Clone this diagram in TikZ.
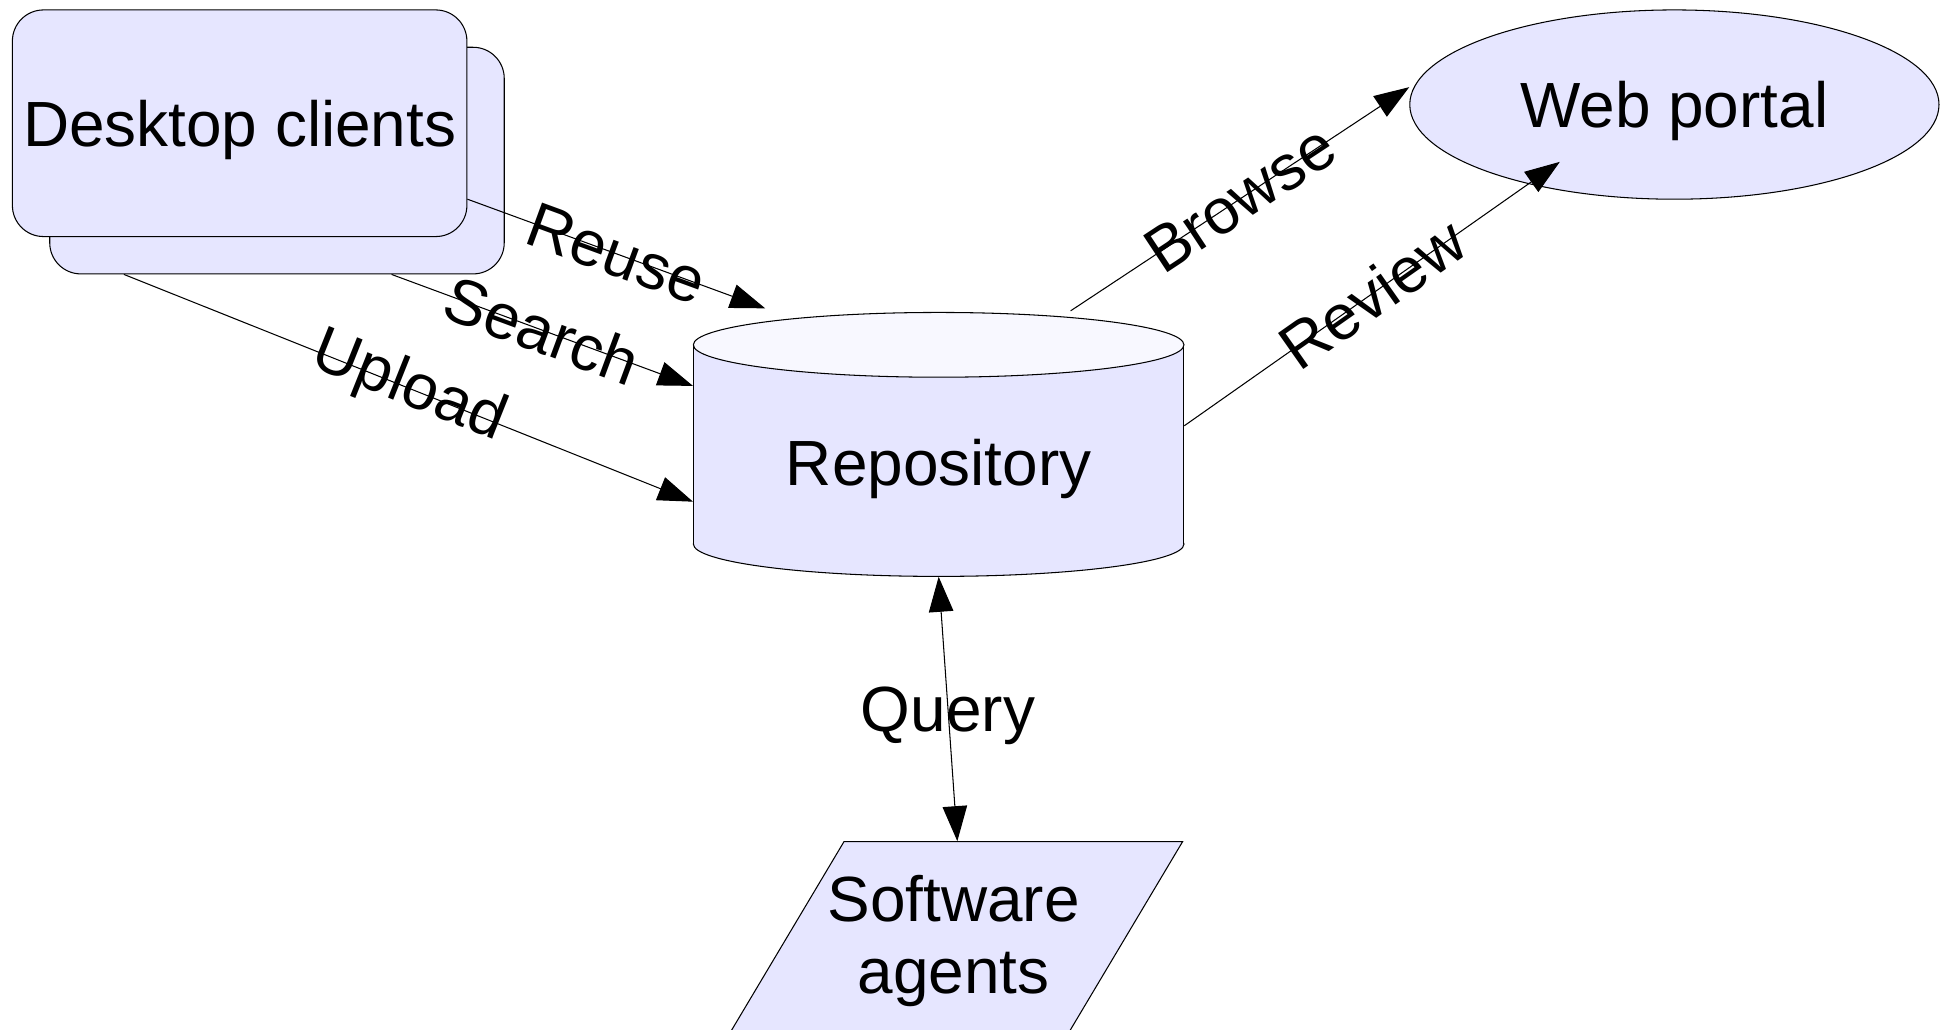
\documentclass[tikz,border=0pt]{standalone}
\usepackage{fontspec}
\setmainfont{Liberation Sans}
\usetikzlibrary{shapes.geometric,arrows.meta,calc}
\definecolor{boxfill}{HTML}{E6E6FF}
\definecolor{topfill}{HTML}{F8F8FF}
\begin{document}
\begin{tikzpicture}[x=0.025cm,y=-0.025cm,
  every node/.style={font=\fontsize{36.5}{41.5}\selectfont},
  shapebox/.style={draw=black,line width=0.6pt,fill=boxfill},
  lowtext/.style={text height=34pt,text depth=8pt},
  clientbox/.style={shapebox,rounded corners=0.625cm,minimum width=9.125cm,minimum height=4.55cm,inner sep=0pt},
  conn/.style={draw=black,line width=0.6pt,-{Triangle[length=20pt,width=14pt]}},
  biconn/.style={draw=black,line width=0.6pt,{Triangle[length=20pt,width=14pt]}-{Triangle[length=20pt,width=14pt]}},
  lbl/.style={sloped,midway,inner sep=0pt}]
\useasboundingbox (0,0) rectangle (1568,827);
\clip (0,0) rectangle (1568,827);
% desktop clients (stack)
\node[clientbox] (back) at (222.5,129) {};
\node[clientbox,lowtext] (front) at (192.5,99) {Desktop clients};
% web portal
\node[shapebox,lowtext,ellipse,minimum width=10.625cm,minimum height=3.8cm,inner sep=0pt] (web) at (1345,84) {Web portal};
% repository cylinder
\draw[shapebox] (754,437) ellipse [x radius=4.925cm, y radius=0.65cm];
\fill[boxfill] (557,277) rectangle (951,437);
\draw[line width=0.6pt] (557,277) -- (557,437) (951,277) -- (951,437);
\draw[shapebox,fill=topfill] (754,277) ellipse [x radius=4.925cm, y radius=0.65cm];
\node[minimum width=9.85cm,minimum height=5.3cm,inner sep=0pt] (repo) at (754,357) {};
\node (repotext) at (754,377) {Repository};
% software agents parallelogram
\draw[shapebox] (678,676) -- (950,676) -- (857,832) -- (585,832) -- cycle;
\node[minimum width=6.8cm,minimum height=3.775cm,inner sep=0pt] (soft) at (769,751.5) {};
\node[align=center,inner sep=0pt] (softtext) at (766,756) {Software\\agents};
% connectors
\draw[conn] ($(front.east)+(0,61)$) -- node[lbl]{Reuse} ($(repo.north west)+(58,-3)$);
\draw[conn] ($(back.south west)+(275,0)$) -- node[lbl]{Search} ($(repo.west)+(0,-47)$);
\draw[conn] ($(back.south west)+(60,0)$) -- node[lbl]{Upload} ($(repo.west)+(0,46)$);
\draw[conn] ($(repo.north)+(106,-1)$) -- node[lbl]{Browse} ($(web.west)+(0,-14)$);
\draw[conn] ($(repo.east)+(0,-15)$) -- node[lbl]{Review} ($(web.center)+(-92,46)$);
\draw[biconn] (repo.south) -- node[midway,inner sep=0pt,yshift=-0.14cm]{Query} (soft.north);
\end{tikzpicture}
\end{document}
